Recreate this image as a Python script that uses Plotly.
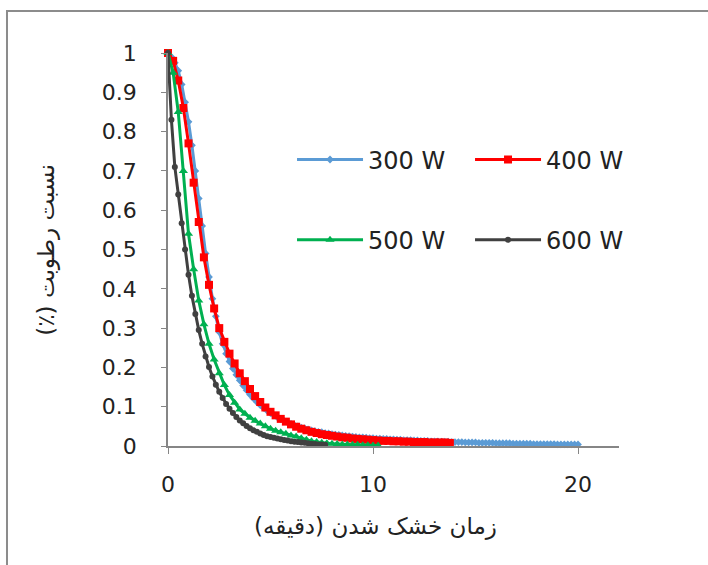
import numpy as np
import plotly.graph_objects as go

# ---- data (moisture ratio vs drying time) ----
series_names = ["300 W", "400 W", "500 W", "600 W"]
step_300 = 1 / 6   # minutes between readings
step_400 = 0.25
step_500 = 0.25
step_600 = 1 / 6

mr_300 = [1, 0.99, 0.975, 0.955, 0.92, 0.875, 0.825, 0.765, 0.70, 0.63,
          0.56, 0.49, 0.43, 0.375, 0.33, 0.29, 0.26, 0.235, 0.215, 0.197,
          0.181, 0.167, 0.154, 0.142, 0.131, 0.121, 0.112, 0.104, 0.097, 0.090,
          0.084, 0.078, 0.073, 0.068, 0.064, 0.060, 0.056, 0.053, 0.050, 0.047,
          0.045, 0.042, 0.040, 0.038, 0.036, 0.035, 0.033, 0.032, 0.030, 0.029,
          0.028, 0.027, 0.026, 0.025, 0.024, 0.023, 0.022, 0.022, 0.021, 0.020,
          0.020, 0.019, 0.019, 0.018, 0.018, 0.017, 0.017, 0.016, 0.016, 0.015,
          0.015, 0.015, 0.014, 0.014, 0.013, 0.013, 0.013, 0.012, 0.012, 0.012,
          0.011, 0.011, 0.011, 0.010, 0.010, 0.010, 0.010, 0.009, 0.009, 0.009,
          0.009, 0.008, 0.008, 0.008, 0.008, 0.008, 0.007, 0.007, 0.007, 0.007,
          0.007, 0.006, 0.006, 0.006, 0.006, 0.006, 0.006, 0.005, 0.005, 0.005,
          0.005, 0.005, 0.005, 0.005, 0.004, 0.004, 0.004, 0.004, 0.004, 0.004,
          0.004]
mr_400 = [1, 0.98, 0.93, 0.86, 0.77, 0.67, 0.57, 0.48, 0.41, 0.35,
          0.30, 0.265, 0.235, 0.21, 0.185, 0.165, 0.145, 0.127, 0.112, 0.098,
          0.087, 0.078, 0.069, 0.062, 0.055, 0.049, 0.044, 0.040, 0.036, 0.033,
          0.030, 0.028, 0.026, 0.024, 0.022, 0.021, 0.019, 0.018, 0.017, 0.016,
          0.015, 0.014, 0.013, 0.013, 0.012, 0.012, 0.011, 0.011, 0.010, 0.010,
          0.010, 0.009, 0.009, 0.009, 0.009, 0.008]
mr_500 = [1, 0.95, 0.85, 0.70, 0.54, 0.45, 0.37, 0.31, 0.26, 0.22,
          0.185, 0.155, 0.13, 0.11, 0.093, 0.082, 0.072, 0.064, 0.057, 0.050,
          0.044, 0.039, 0.035, 0.031, 0.027, 0.024, 0.020, 0.016, 0.012, 0.010,
          0.008, 0.007, 0.006, 0.005, 0.004, 0.004, 0.003, 0.003, 0.002, 0.002,
          0.001, 0.001]
mr_600 = [1, 0.83, 0.71, 0.64, 0.567, 0.50, 0.436, 0.382, 0.336, 0.295,
          0.26, 0.228, 0.201, 0.177, 0.156, 0.138, 0.122, 0.107, 0.095, 0.084,
          0.074, 0.065, 0.058, 0.051, 0.045, 0.040, 0.036, 0.032, 0.028, 0.025,
          0.023, 0.021, 0.019, 0.017, 0.015, 0.014, 0.012, 0.011, 0.010, 0.009,
          0.008, 0.007, 0.006, 0.005, 0.004, 0.004, 0.003]

x_title = "زمان خشک شدن (دقیقه)"
y_title = "نسبت رطوبت (٪)"
x_ticks = [0, 10, 20]
y_ticks = [0, 0.1, 0.2, 0.3, 0.4, 0.5, 0.6, 0.7, 0.8, 0.9, 1]
y_ticktext = ["0", "0.1", "0.2", "0.3", "0.4", "0.5", "0.6", "0.7", "0.8", "0.9", "1"]

RLE, PDF = "\u202B", "\u202C"   # right-to-left embedding for Persian titles

# ---- styles ----
styles = [
    dict(color="#5B9BD5", symbol="diamond", size=6, legend="legend"),
    dict(color="#FF0000", symbol="square", size=8, legend="legend"),
    dict(color="#00B050", symbol="triangle-up", size=8, legend="legend2"),
    dict(color="#404040", symbol="circle", size=6, legend="legend2"),
]
values = [mr_300, mr_400, mr_500, mr_600]
steps = [step_300, step_400, step_500, step_600]

fig = go.Figure()
for name, vals, st, sty in zip(series_names, values, steps, styles):
    t = np.arange(len(vals)) * st
    fig.add_trace(go.Scatter(
        x=t, y=vals, name=name, mode="lines+markers",
        line=dict(color=sty["color"], width=3),
        marker=dict(color=sty["color"], symbol=sty["symbol"], size=sty["size"],
                    line=dict(width=0)),
        cliponaxis=False, legend=sty["legend"],
    ))

axis_col = "#868686"
tick_font = dict(family="DejaVu Sans", size=22, color="#222222")
legend_font = dict(family="DejaVu Sans", size=24, color="#222222")
title_font = dict(family="DejaVu Sans", size=23, color="#222222")

fig.update_layout(
    width=708, height=565,
    margin=dict(l=168, r=89, t=53, b=119),
    paper_bgcolor="white", plot_bgcolor="white",
    showlegend=True,
    xaxis=dict(range=[0, 22], tickvals=x_ticks, ticks="outside", ticklen=6,
               tickcolor=axis_col, showline=True, linecolor=axis_col, linewidth=1.5,
               showgrid=False, zeroline=False, tickfont=tick_font,
               ticklabelstandoff=12),
    yaxis=dict(range=[0, 1], tickvals=y_ticks, ticktext=y_ticktext, ticks="outside",
               ticklen=5, tickcolor=axis_col, showline=True, linecolor=axis_col,
               linewidth=1.5, showgrid=False, zeroline=False, tickfont=tick_font,
               ticklabelstandoff=20),
    legend=dict(orientation="h", x=0.275, y=0.728, xanchor="left", yanchor="middle",
                font=legend_font, itemwidth=66, entrywidth=97,
                bgcolor="rgba(0,0,0,0)", traceorder="normal"),
    legend2=dict(orientation="h", x=0.275, y=0.524, xanchor="left", yanchor="middle",
                 font=legend_font, itemwidth=66, entrywidth=97,
                 bgcolor="rgba(0,0,0,0)", traceorder="normal"),
    annotations=[
        dict(text=RLE + x_title + PDF, xref="paper", yref="paper", x=0.46, y=-0.205,
             xanchor="center", yanchor="middle", showarrow=False, font=title_font),
        dict(text=RLE + y_title + PDF, xref="paper", yref="paper", x=-0.27, y=0.5,
             xanchor="center", yanchor="middle", showarrow=False, textangle=-90,
             font=title_font),
    ],
    shapes=[
        dict(type="rect", xref="paper", yref="paper",
             x0=-0.357, x1=1.3, y0=-0.4, y1=1.107,
             line=dict(color="#8C8C8C", width=2), fillcolor="rgba(0,0,0,0)",
             layer="below"),
    ],
)

fig.write_html("out.html")
